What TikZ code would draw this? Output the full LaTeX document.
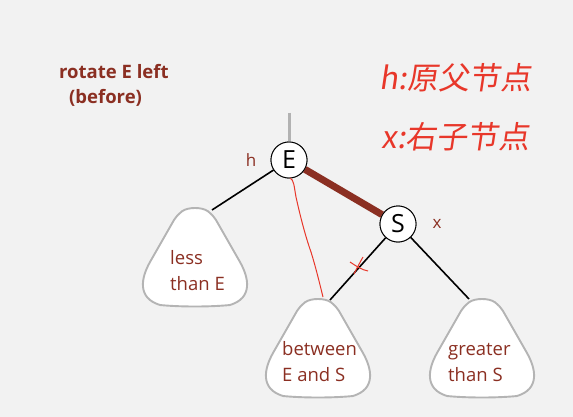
\documentclass[tikz,border=0pt]{standalone}
\usepackage{fontspec}
\setmainfont{Open Sans}
\newfontfamily\cjk{Noto Sans CJK SC}
\definecolor{bgc}{HTML}{F2F2F2}
\definecolor{brn}{HTML}{8B2F22}
\definecolor{hand}{HTML}{E8372A}
\definecolor{outl}{HTML}{B4B4B4}
\begin{document}
\begin{tikzpicture}[x=1pt,y=-1pt,
  circ/.style={circle,draw=black,fill=white,line width=0.9pt,minimum size=36pt,inner sep=0pt,font=\fontsize{25}{25}\selectfont},
  edge/.style={line width=1.6pt,black},
  lbl/.style={text=brn,font=\fontsize{17}{18}\selectfont},
  subtxt/.style={text=brn,align=left,inner sep=0pt,anchor=base west,font=\fontsize{18.5}{26}\selectfont},
  ttl/.style={text=brn,inner sep=0pt,anchor=base west,font=\fontsize{18.5}{20}\selectfont\bfseries},
  red/.style={hand,line width=1pt},
  tri/.pic={\draw[outl,fill=white,line width=1.9pt]
     (0,0) .. controls (-12,0) and (-16,5) .. (-21,12) -- (-45,54)
     .. controls (-54,70) and (-58,90) .. (-35,97)
     .. controls (-15,99) and (15,99) .. (35,97)
     .. controls (58,90) and (54,70) .. (45,54) -- (21,12)
     .. controls (16,5) and (12,0) .. (0,0) -- cycle;}]
\fill[bgc] (0,0) rectangle (573,417);
\useasboundingbox (0,0) rectangle (573,417);
% title
\node[ttl] (t1) at (59,79) {rotate E left};
\node[ttl] (t2) at (69,104) {(before)};
% subtrees
\pic at (195,208) {tri};
\pic at (318,299) {tri};
\pic at (482,299) {tri};
\node[subtxt] (lt) at (170,290) {less\\than E};
\node[subtxt] (bt) at (282,381) {between\\E and S};
\node[subtxt] (gt) at (448,381) {greater\\than S};
\coordinate (lc) at (212,210);
\coordinate (bc) at (330,300);
\coordinate (gc) at (469,299);
\coordinate (top) at (289,113);
% nodes
\node[circ] (E) at (289,160) {E};
\node[circ] (S) at (398,224) {S};
\draw[black!30,line width=3pt] (top) -- (E.north);
\draw[brn,line width=7pt] (E) -- (S);
\draw[edge] (E) -- (lc);
\draw[edge] (S) -- (bc);
\draw[edge] (S) -- (gc);
\node[circ] at (E) {E};
\node[circ] at (S) {S};
\node[lbl] (h) at (251,160) {h};
\node[lbl] (x) at (437,224) {x};
% handwriting
\draw[red] (290,178) .. controls (294,180) and (294,186) .. (296,197)
  .. controls (300,215) and (305,235) .. (311,252)
  .. controls (316,268) and (320,285) .. (323,297);
\draw[red] (350,262) .. controls (356,266) and (362,270) .. (368,271);
\draw[red] (363,257) .. controls (359,264) and (356,270) .. (354,274);
\node[text=hand,font=\cjk\fontsize{31}{31}\selectfont,anchor=west,xslant=0.15] (n1) at (378,78) {h:原父节点};
\node[text=hand,font=\cjk\fontsize{31}{31}\selectfont,anchor=west,xslant=0.15] (n2) at (380,137) {x:右子节点};
\end{tikzpicture}
\end{document}
